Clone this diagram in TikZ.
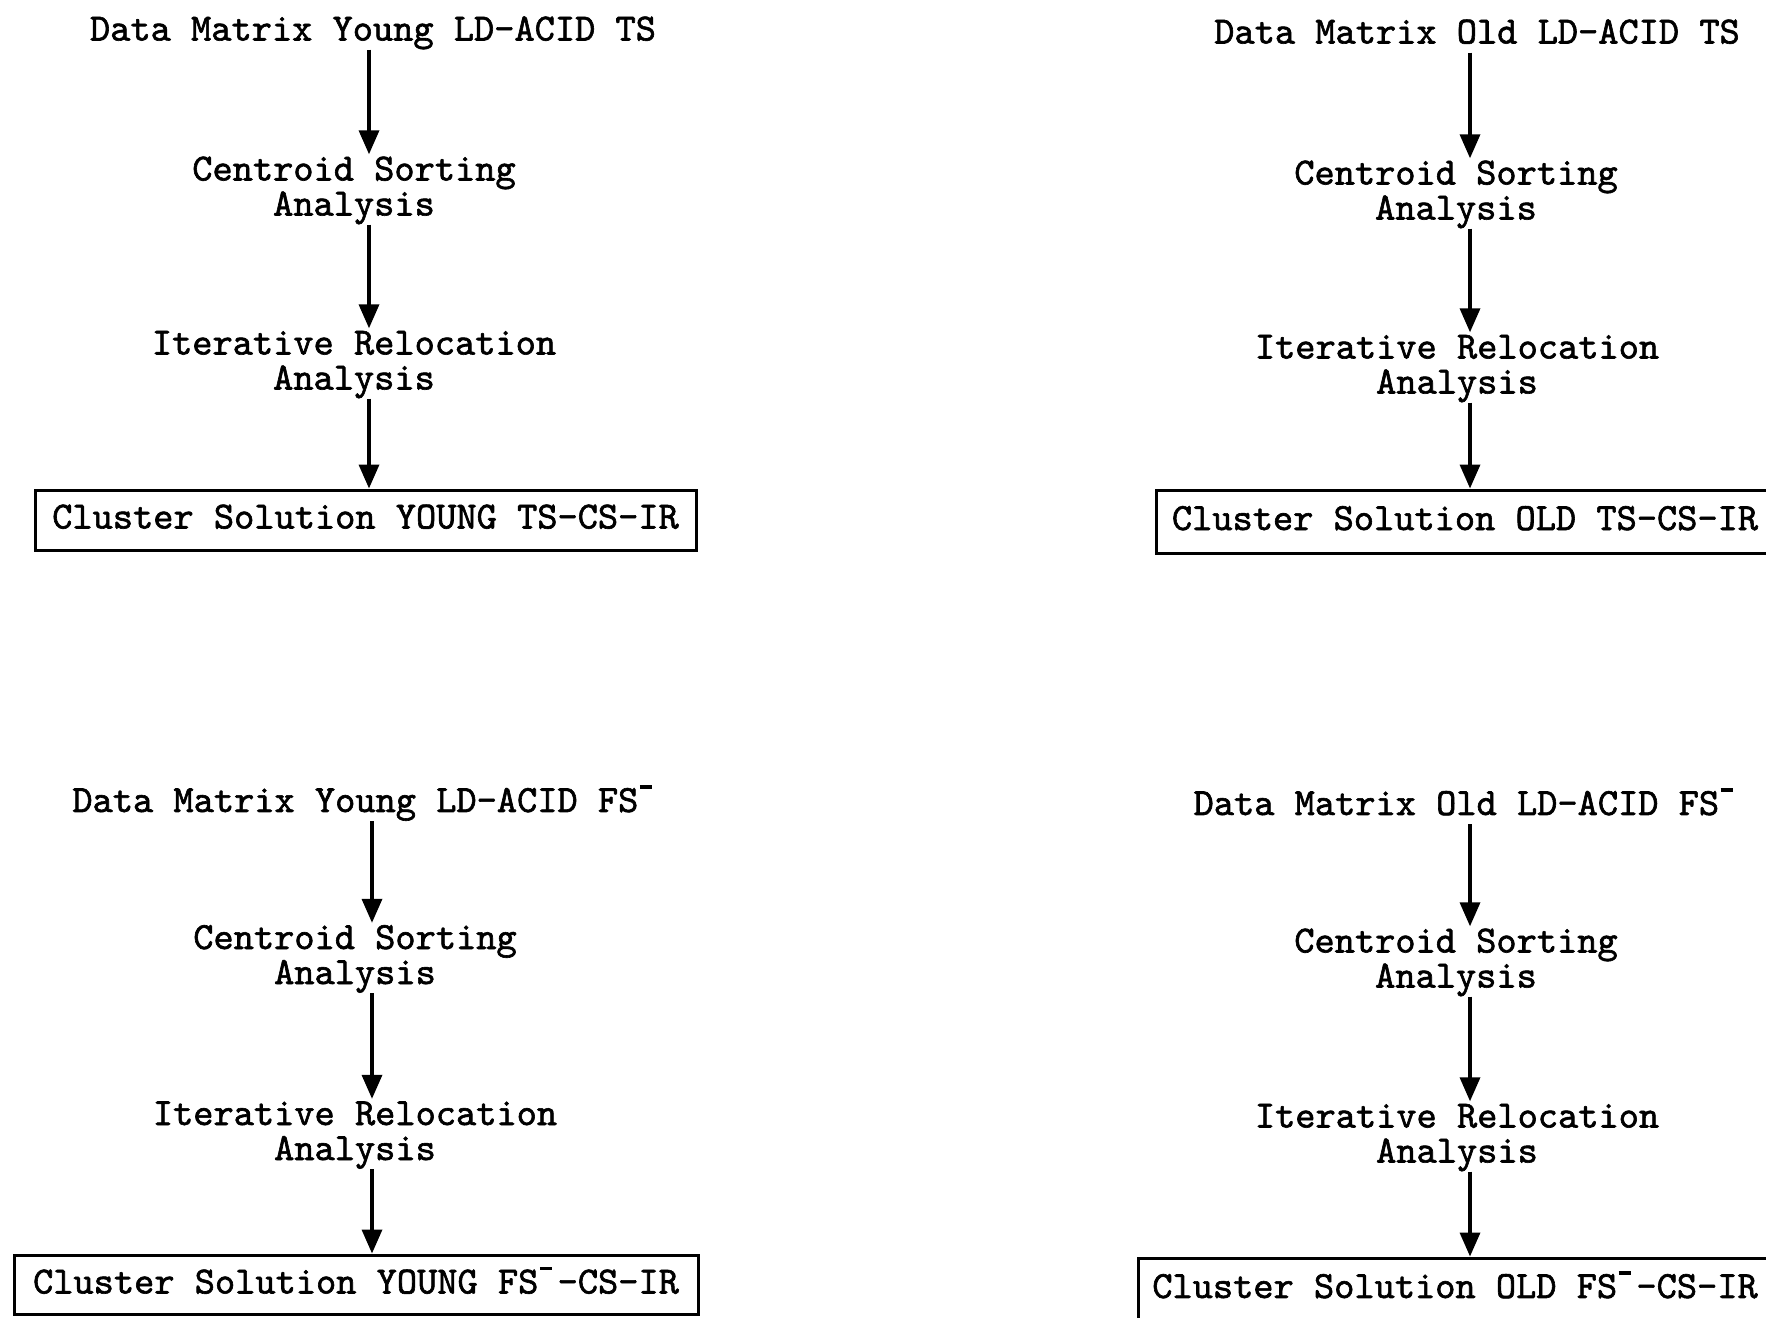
\documentclass[tikz,border=0pt]{standalone}
\usepackage{fontspec}
\newfontfamily\tw[Extension=.otf,FakeBold=1.6]{lmmono10-regular}
\usetikzlibrary{arrows.meta}
\newcommand{\fsm}{\makebox[0.5em][l]{\hspace{0.04em}\raisebox{0.6em}{\rule{0.32em}{0.1em}}}}
\newcommand{\lstrut}{\rule[-9pt]{0pt}{35pt}}
\tikzset{
  lbl/.style={font=\tw\fontsize{38.5}{35}\selectfont, inner sep=0pt, align=center},
  resbox/.style={lbl, draw, line width=3pt, minimum height=60pt},
  arr/.style={line width=3.5pt, -{Triangle[width=20pt,length=24pt]}}
}
\begin{document}
\begin{tikzpicture}[x=1pt,y=-1pt]
\fill[white] (0,0) rectangle (1766,1317);
\useasboundingbox (0,0) rectangle (1766,1317);
% axes for arrows
\coordinate (ax1) at (369,0);
\coordinate (ax2) at (1470,0);
\coordinate (ax3) at (372,0);
\coordinate (ax4) at (1470,0);
% top left
\node[lbl] (dm1) at (373,32) {\lstrut Data Matrix Young LD-ACID TS};
\node[lbl] (cs1) at (354,189.5) {\lstrut Centroid Sorting\\Analysis\lstrut};
\node[lbl] (ir1) at (354,363.5) {\lstrut Iterative Relocation\\Analysis\lstrut};
\node[resbox, minimum width=661pt] (cl1) at (365.5,520) {\lstrut Cluster Solution YOUNG TS-CS-IR};
\draw[arr] (dm1.south -| ax1) -- (cs1.north -| ax1);
\draw[arr] (cs1.south -| ax1) -- (ir1.north -| ax1);
\draw[arr] (ir1.south -| ax1) -- (cl1.north -| ax1);
% top right
\node[lbl] (dm2) at (1477,35) {\lstrut Data Matrix Old LD-ACID TS};
\node[lbl] (cs2) at (1456,193.5) {\lstrut Centroid Sorting\\Analysis\lstrut};
\node[lbl] (ir2) at (1457,367.5) {\lstrut Iterative Relocation\\Analysis\lstrut};
\node[resbox, minimum width=618pt, minimum height=63pt] (cl2) at (1465,521.5) {\lstrut Cluster Solution OLD TS-CS-IR};
\draw[arr] (dm2.south -| ax2) -- (cs2.north -| ax2);
\draw[arr] (cs2.south -| ax2) -- (ir2.north -| ax2);
\draw[arr] (ir2.south -| ax2) -- (cl2.north -| ax2);
% bottom left
\node[lbl] (dm3) at (365,803) {\lstrut Data Matrix Young LD-ACID FS\fsm};
\node[lbl] (cs3) at (355,958) {\lstrut Centroid Sorting\\Analysis\lstrut};
\node[lbl] (ir3) at (355,1134) {\lstrut Iterative Relocation\\Analysis\lstrut};
\node[resbox, minimum width=684pt, minimum height=59pt] (cl3) at (356,1284.5) {\lstrut Cluster Solution YOUNG FS\fsm-CS-IR};
\draw[arr] (dm3.south -| ax3) -- (cs3.north -| ax3);
\draw[arr] (cs3.south -| ax3) -- (ir3.north -| ax3);
\draw[arr] (ir3.south -| ax3) -- (cl3.north -| ax3);
% bottom right
\node[lbl] (dm4) at (1466,806) {\lstrut Data Matrix Old LD-ACID FS\fsm};
\node[lbl] (cs4) at (1456,961.5) {\lstrut Centroid Sorting\\Analysis\lstrut};
\node[lbl] (ir4) at (1457,1136.5) {\lstrut Iterative Relocation\\Analysis\lstrut};
\node[resbox, minimum width=634pt, minimum height=62pt] (cl4) at (1455,1289) {\lstrut Cluster Solution OLD FS\fsm-CS-IR};
\draw[arr] (dm4.south -| ax4) -- (cs4.north -| ax4);
\draw[arr] (cs4.south -| ax4) -- (ir4.north -| ax4);
\draw[arr] (ir4.south -| ax4) -- (cl4.north -| ax4);
\end{tikzpicture}
\end{document}
